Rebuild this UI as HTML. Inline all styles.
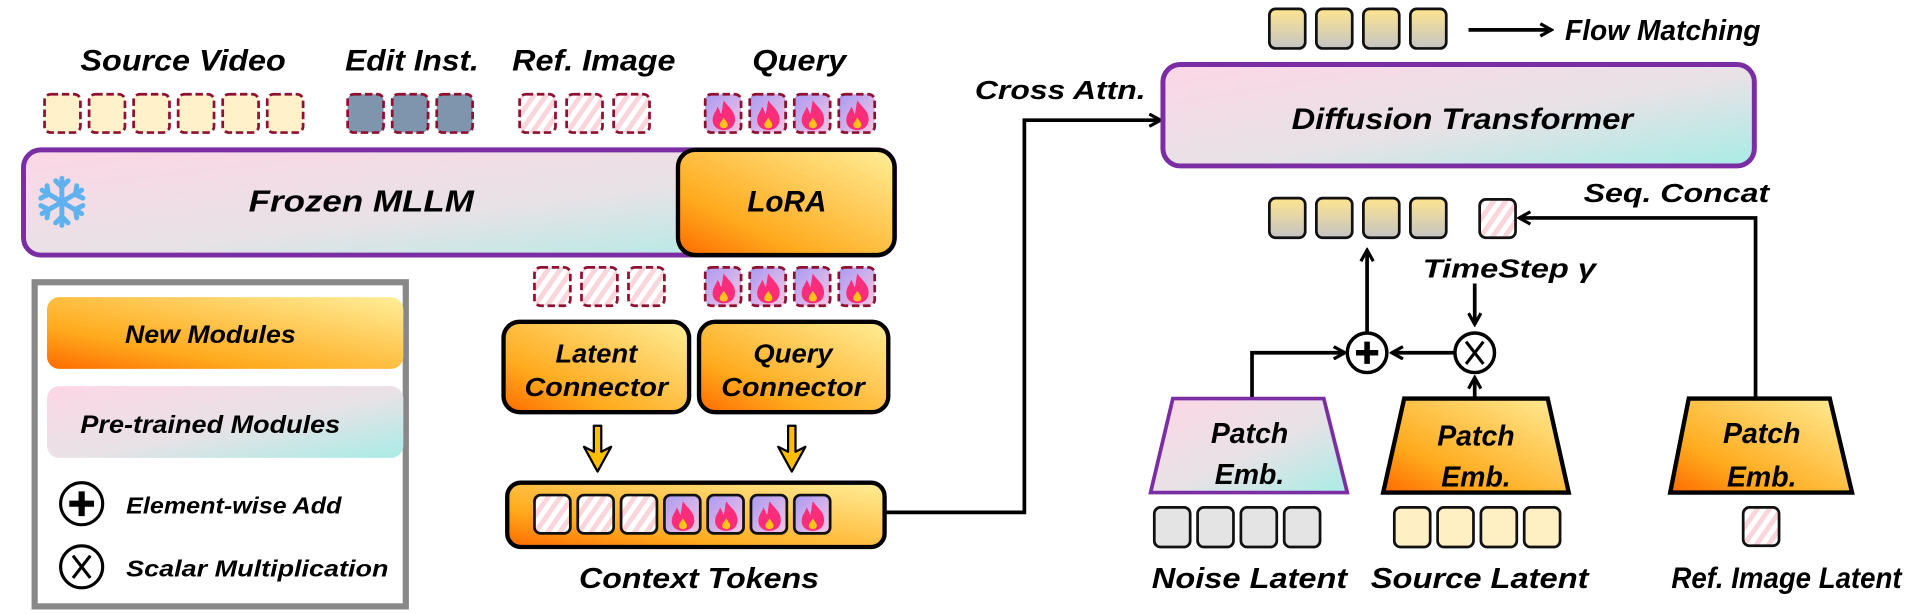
<!DOCTYPE html>
<html><head><meta charset="utf-8"><style>
html,body{margin:0;padding:0;background:#fff;}
svg{display:block}
text{font-family:"Liberation Sans",sans-serif;font-weight:bold;font-style:italic;fill:#000;}
</style></head><body>
<svg width="1930" height="614" viewBox="0 0 1560 496" xmlns="http://www.w3.org/2000/svg">
<defs>
<linearGradient id="org" x1="0" y1="1" x2="1" y2="0">
<stop offset="0" stop-color="#ff6a00"/><stop offset="0.3" stop-color="#ffab1e"/><stop offset="1" stop-color="#ffee99"/>
</linearGradient>
<linearGradient id="pas" x1="0" y1="0" x2="1" y2="1">
<stop offset="0" stop-color="#fdd6e6"/><stop offset="0.55" stop-color="#e7e2e6"/><stop offset="1" stop-color="#a8ece6"/>
</linearGradient>
<linearGradient id="tokg" x1="0" y1="0" x2="0" y2="1">
<stop offset="0" stop-color="#ffe58f"/><stop offset="1" stop-color="#c4c4c4"/>
</linearGradient>
<linearGradient id="flg" x1="0" y1="0" x2="1" y2="1">
<stop offset="0" stop-color="#a99af2"/><stop offset="1" stop-color="#f6c6e4"/>
</linearGradient>
<pattern id="hatch" width="8" height="8" patternUnits="userSpaceOnUse" patternTransform="rotate(35)">
<rect width="8" height="8" fill="#fff"/><rect width="4" height="8" fill="#fbd5dc"/>
</pattern>
<marker id="ah" markerWidth="12" markerHeight="12" refX="10" refY="6" orient="auto" markerUnits="userSpaceOnUse">
<path d="M1,1 L10,6 L1,11" fill="none" stroke="#000" stroke-width="2.6"/>
</marker>
<g id="flame">
<path d="M15,5 C19,11 25,14 24,22 C23,27 19,29 15,29 C10,29 6,26 6,21 C6,16 9,14 10,10 C12,13 12,15 13,16 C14,12 14,9 15,5Z" fill="#fb2d7a"/>
<path d="M15,19 C17,22 19,24 18,26 C17,28 13,28 12,26 C11,24 13,22 15,19Z" fill="#ffc21a"/>
</g>
<g id="ftokd"><rect x="0" y="0" width="29" height="31" rx="5" fill="url(#flg)" stroke="#8f1030" stroke-width="2.2" stroke-dasharray="6,3"/><use href="#flame"/></g>
<g id="ftok"><rect x="0" y="0" width="29" height="31" rx="5" fill="url(#flg)" stroke="#111" stroke-width="2.2"/><use href="#flame"/></g>
<rect id="htokd" x="0" y="0" width="29" height="31" rx="5" fill="url(#hatch)" stroke="#8f1030" stroke-width="2.2" stroke-dasharray="6,3"/>
<rect id="htok" x="0" y="0" width="29" height="31" rx="5" fill="url(#hatch)" stroke="#111" stroke-width="2.2"/>
<rect id="ytokd" x="0" y="0" width="29" height="31" rx="5" fill="#fff1c9" stroke="#8f1030" stroke-width="2.2" stroke-dasharray="6,3"/>
<rect id="btokd" x="0" y="0" width="29" height="31" rx="5" fill="#7e95ad" stroke="#8f1030" stroke-width="2.2" stroke-dasharray="6,3"/>
<rect id="gtok" x="0" y="0" width="29" height="32" rx="5" fill="url(#tokg)" stroke="#111" stroke-width="2.2"/>
<rect id="grtok" x="0" y="0" width="29" height="32" rx="5" fill="#e4e4e4" stroke="#111" stroke-width="2.2"/>
<rect id="sytok" x="0" y="0" width="29" height="32" rx="5" fill="#fff0c4" stroke="#111" stroke-width="2.2"/>
</defs>

<!-- top labels -->
<text x="148" y="57" font-size="24" text-anchor="middle" textLength="166" lengthAdjust="spacingAndGlyphs">Source Video</text>
<text x="333" y="57" font-size="24" text-anchor="middle" textLength="108" lengthAdjust="spacingAndGlyphs">Edit Inst.</text>
<text x="480" y="57" font-size="24" text-anchor="middle" textLength="132" lengthAdjust="spacingAndGlyphs">Ref. Image</text>
<text x="646" y="57" font-size="24" text-anchor="middle" textLength="76" lengthAdjust="spacingAndGlyphs">Query</text>

<!-- top tokens -->
<use href="#ytokd" x="36" y="76"/><use href="#ytokd" x="72" y="76"/><use href="#ytokd" x="108" y="76"/>
<use href="#ytokd" x="144" y="76"/><use href="#ytokd" x="180" y="76"/><use href="#ytokd" x="216" y="76"/>
<use href="#btokd" x="281" y="76"/><use href="#btokd" x="317" y="76"/><use href="#btokd" x="353" y="76"/>
<use href="#htokd" x="420" y="76"/><use href="#htokd" x="458" y="76"/><use href="#htokd" x="496" y="76"/>
<use href="#ftokd" x="570" y="76"/><use href="#ftokd" x="606" y="76"/><use href="#ftokd" x="642" y="76"/><use href="#ftokd" x="678" y="76"/>

<!-- Frozen MLLM -->
<rect x="19" y="121" width="704" height="85" rx="14" fill="url(#pas)" stroke="#7b2ea3" stroke-width="4"/>
<rect x="548" y="121" width="175" height="85" rx="14" fill="url(#org)" stroke="#000" stroke-width="3.5"/>
<text x="292" y="171" font-size="25" text-anchor="middle" textLength="182" lengthAdjust="spacingAndGlyphs">Frozen MLLM</text>
<text x="636" y="171" font-size="24" text-anchor="middle" textLength="64" lengthAdjust="spacingAndGlyphs">LoRA</text>
<g stroke="#5fb2ee" stroke-width="4" stroke-linecap="round" fill="none" transform="translate(50,163)">
<line x1="0" y1="-19" x2="0" y2="19"/><line x1="-16" y1="-9.5" x2="16" y2="9.5"/><line x1="-16" y1="9.5" x2="16" y2="-9.5"/>
<path d="M-5,-17 L0,-12 L5,-17 M-5,17 L0,12 L5,17"/>
<path d="M-17,-3 L-11,-6 L-12,-13 M17,3 L11,6 L12,13 M-17,3 L-11,6 L-12,13 M17,-3 L11,-6 L12,-13"/>
</g>

<!-- second tokens row -->
<use href="#htokd" x="432" y="216"/><use href="#htokd" x="470" y="216"/><use href="#htokd" x="508" y="216"/>
<use href="#ftokd" x="570" y="216"/><use href="#ftokd" x="606" y="216"/><use href="#ftokd" x="642" y="216"/><use href="#ftokd" x="678" y="216"/>

<!-- connectors -->
<rect x="407" y="260" width="150" height="73" rx="13" fill="url(#org)" stroke="#000" stroke-width="3.5"/>
<rect x="565" y="260" width="153" height="73" rx="13" fill="url(#org)" stroke="#000" stroke-width="3.5"/>
<text x="482" y="293" font-size="21" text-anchor="middle" textLength="66" lengthAdjust="spacingAndGlyphs">Latent</text>
<text x="482" y="320" font-size="21" text-anchor="middle" textLength="116" lengthAdjust="spacingAndGlyphs">Connector</text>
<text x="641" y="293" font-size="21" text-anchor="middle" textLength="64" lengthAdjust="spacingAndGlyphs">Query</text>
<text x="641" y="320" font-size="21" text-anchor="middle" textLength="116" lengthAdjust="spacingAndGlyphs">Connector</text>

<!-- yellow arrows -->
<g fill="#ffbf00" stroke="#000" stroke-width="1.8" stroke-linejoin="round">
<path d="M480,344 L486,344 L486,365 L494,361 L483,381 L472,361 L480,365Z"/>
<path d="M637,344 L643,344 L643,365 L651,361 L640,381 L629,361 L637,365Z"/>
</g>

<!-- context tokens -->
<rect x="410" y="390" width="305" height="52" rx="11" fill="url(#org)" stroke="#000" stroke-width="3.5"/>
<use href="#htok" x="432" y="400"/><use href="#htok" x="467" y="400"/><use href="#htok" x="502" y="400"/>
<use href="#ftok" x="537" y="400"/><use href="#ftok" x="572" y="400"/><use href="#ftok" x="607" y="400"/><use href="#ftok" x="642" y="400"/>
<text x="565" y="475" font-size="23" text-anchor="middle" textLength="194" lengthAdjust="spacingAndGlyphs">Context Tokens</text>

<!-- legend -->
<rect x="28" y="228" width="300" height="262" fill="#fff" stroke="#888" stroke-width="5"/>
<rect x="38" y="240" width="288" height="58" rx="10" fill="url(#org)"/>
<rect x="38" y="312" width="288" height="58" rx="10" fill="url(#pas)"/>
<text x="170" y="277" font-size="20" text-anchor="middle" textLength="138" lengthAdjust="spacingAndGlyphs">New Modules</text>
<text x="170" y="350" font-size="20" text-anchor="middle" textLength="210" lengthAdjust="spacingAndGlyphs">Pre-trained Modules</text>
<circle cx="66" cy="407" r="17" fill="#fff" stroke="#000" stroke-width="2.5"/>
<path d="M66,397 V417 M56,407 H76" stroke="#000" stroke-width="5"/>
<text x="102" y="415" font-size="19" textLength="174" lengthAdjust="spacingAndGlyphs">Element-wise Add</text>
<circle cx="66" cy="458" r="17" fill="#fff" stroke="#000" stroke-width="2.5"/>
<path d="M59,449 L73,467 M73,449 L59,467" stroke="#000" stroke-width="2.5"/>
<text x="102" y="466" font-size="19" textLength="212" lengthAdjust="spacingAndGlyphs">Scalar Multiplication</text>

<!-- cross attn line -->
<path d="M715,414 H828 V97 H938" fill="none" stroke="#000" stroke-width="3" marker-end="url(#ah)"/>
<text x="788" y="80" font-size="21" textLength="138" lengthAdjust="spacingAndGlyphs">Cross Attn.</text>

<!-- right: top tokens -->
<use href="#gtok" x="1026" y="7"/><use href="#gtok" x="1064" y="7"/><use href="#gtok" x="1102" y="7"/><use href="#gtok" x="1140" y="7"/>
<path d="M1187,24 H1254" stroke="#000" stroke-width="3" fill="none" marker-end="url(#ah)"/>
<text x="1265" y="32" font-size="23" textLength="158" lengthAdjust="spacingAndGlyphs">Flow Matching</text>

<!-- DiT -->
<rect x="940" y="52" width="478" height="82" rx="14" fill="url(#pas)" stroke="#7b2ea3" stroke-width="4"/>
<text x="1182" y="104" font-size="24" text-anchor="middle" textLength="276" lengthAdjust="spacingAndGlyphs">Diffusion Transformer</text>

<!-- middle tokens -->
<use href="#gtok" x="1026" y="160"/><use href="#gtok" x="1064" y="160"/><use href="#gtok" x="1102" y="160"/><use href="#gtok" x="1140" y="160"/>
<use href="#htok" x="1196" y="161"/>
<path d="M1419,323 V176 H1228" fill="none" stroke="#000" stroke-width="3" marker-end="url(#ah)"/>
<text x="1280" y="163" font-size="21" textLength="150" lengthAdjust="spacingAndGlyphs">Seq. Concat</text>

<!-- ops -->
<text x="1150" y="224" font-size="21" textLength="140" lengthAdjust="spacingAndGlyphs">TimeStep γ</text>
<path d="M1192,229 V262" stroke="#000" stroke-width="3" marker-end="url(#ah)"/>
<circle cx="1105" cy="285" r="16" fill="#fff" stroke="#000" stroke-width="2.8"/>
<path d="M1105,276 V294 M1096,285 H1114" stroke="#000" stroke-width="4.5"/>
<circle cx="1192" cy="285" r="16" fill="#fff" stroke="#000" stroke-width="2.8"/>
<path d="M1185,276 L1199,294 M1199,276 L1185,294" stroke="#000" stroke-width="2.5"/>
<path d="M1105,268 V202" stroke="#000" stroke-width="3" marker-end="url(#ah)"/>
<path d="M1176,285 H1125" stroke="#000" stroke-width="3" marker-end="url(#ah)"/>
<path d="M1192,322 V305" stroke="#000" stroke-width="3" marker-end="url(#ah)"/>
<path d="M1012,322 V285 H1087" fill="none" stroke="#000" stroke-width="3" marker-end="url(#ah)"/>

<!-- patch embs -->
<path d="M948,322 H1070 L1089,398 H930Z" fill="url(#pas)" stroke="#7b2ea3" stroke-width="3"/>
<path d="M1135,322 H1251 L1268,398 H1118Z" fill="url(#org)" stroke="#000" stroke-width="3.5"/>
<path d="M1365,322 H1479 L1497,398 H1350Z" fill="url(#org)" stroke="#000" stroke-width="3.5"/>
<text x="1010" y="358" font-size="23" text-anchor="middle">Patch</text>
<text x="1010" y="391" font-size="23" text-anchor="middle">Emb.</text>
<text x="1193" y="360" font-size="23" text-anchor="middle">Patch</text>
<text x="1193" y="393" font-size="23" text-anchor="middle">Emb.</text>
<text x="1424" y="358" font-size="23" text-anchor="middle">Patch</text>
<text x="1424" y="393" font-size="23" text-anchor="middle">Emb.</text>

<!-- bottom tokens -->
<use href="#grtok" x="933" y="410"/><use href="#grtok" x="968" y="410"/><use href="#grtok" x="1003" y="410"/><use href="#grtok" x="1038" y="410"/>
<use href="#sytok" x="1127" y="410"/><use href="#sytok" x="1162" y="410"/><use href="#sytok" x="1197" y="410"/><use href="#sytok" x="1232" y="410"/>
<use href="#htok" x="1409" y="410"/>
<text x="1010" y="475" font-size="23" text-anchor="middle" textLength="158" lengthAdjust="spacingAndGlyphs">Noise Latent</text>
<text x="1196" y="475" font-size="23" text-anchor="middle" textLength="176" lengthAdjust="spacingAndGlyphs">Source Latent</text>
<text x="1444" y="475" font-size="24" text-anchor="middle" textLength="186" lengthAdjust="spacingAndGlyphs">Ref. Image Latent</text>
</svg>
</body></html>
